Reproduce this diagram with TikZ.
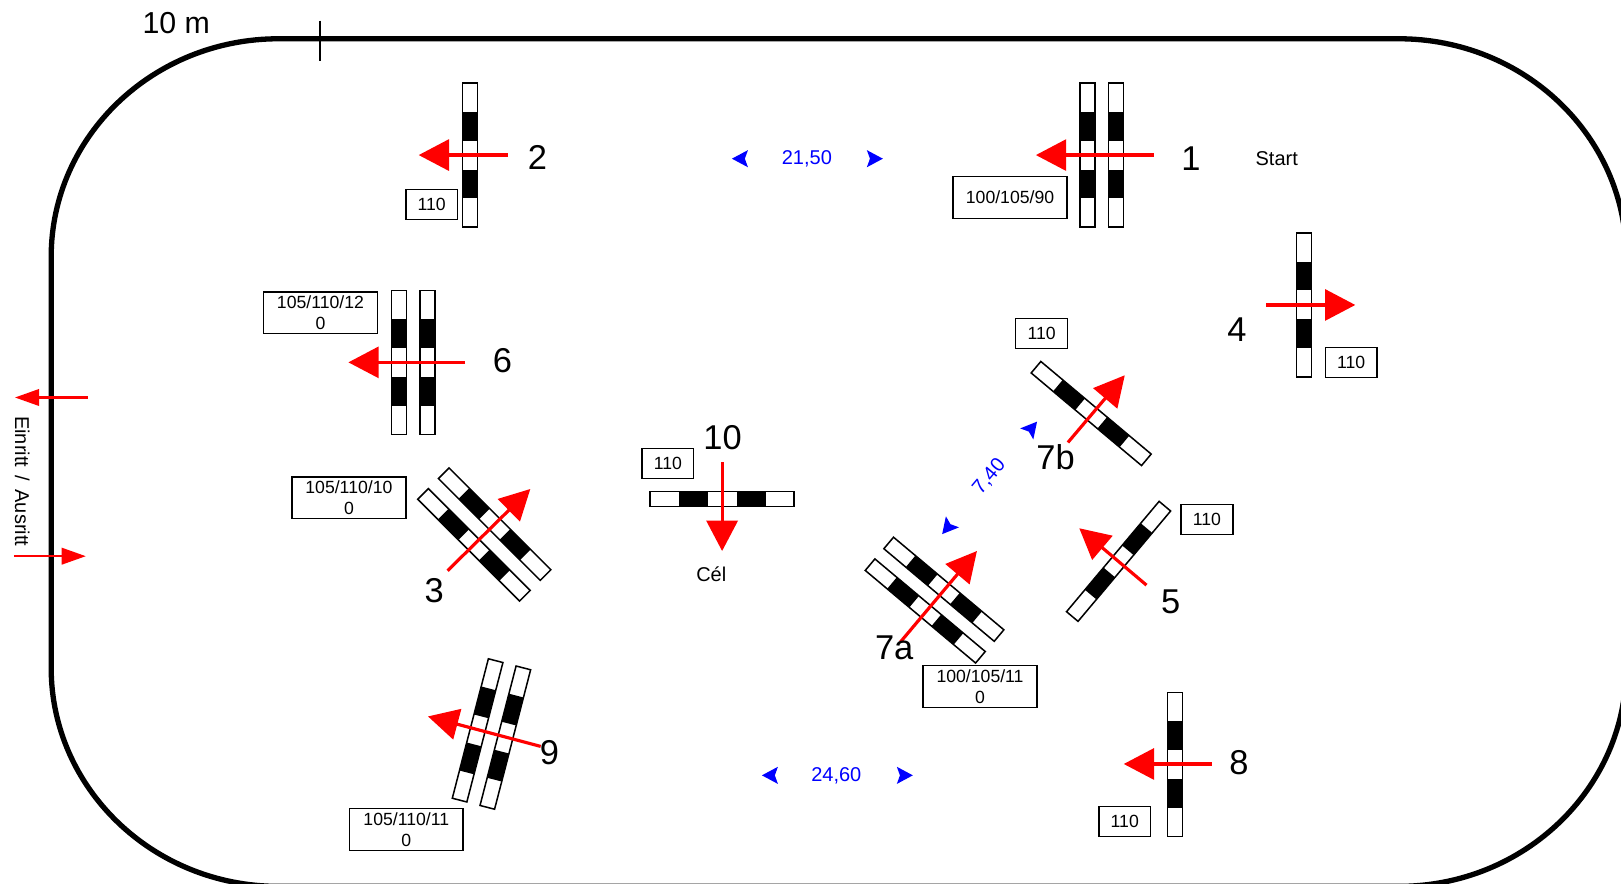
\documentclass[tikz,border=0pt]{standalone}
\usepackage{fontspec}
\setmainfont{Liberation Sans}
\usetikzlibrary{arrows.meta}
\definecolor{arrowred}{RGB}{255,0,0}
\definecolor{distblue}{RGB}{0,0,255}
\tikzset{
  x=0.75pt,y=-0.75pt,
  jumpbar/.style={draw=black,fill=white,line width=1.1pt,minimum width=104.5pt,minimum height=10.9pt,inner sep=0pt,outer sep=0pt},
  heightbox/.style={draw=black,fill=white,line width=1.1pt,inner sep=0pt,outer sep=0pt,align=center,font=\fontsize{12.8}{15.4}\selectfont},
  number/.style={font=\fontsize{25}{30}\selectfont,inner sep=0pt},
  course/.style={arrowred,line width=2.3pt,-{Triangle[length=22pt,width=22.5pt]}},
  gate/.style={arrowred,line width=1.5pt,-{Triangle[length=17.5pt,width=12pt]}},
  plain/.style={font=\fontsize{14.5}{17}\selectfont,inner sep=0pt},
  dist/.style={font=\fontsize{14.5}{17}\selectfont,text=distblue,inner sep=0pt},
}
% name, x, y, rotation
\newcommand\jumpbaritem[4]{%
  \node[jumpbar,rotate=#4] (#1) at (#2,#3) {};
  \begin{scope}[shift={(#2,#3)},rotate=#4]
    \fill[black] (-42,-7.25) rectangle (-14,7.25);
    \fill[black] (14,-7.25) rectangle (42,7.25);
  \end{scope}}
% name, x, y, width, height, text
\newcommand\heightitem[6]{\node[heightbox,minimum width=#4*0.75pt,minimum height=#5*0.75pt] (#1) at (#2,#3) {#6};}
% x, y, rotation
\newcommand\bluetip[3]{\fill[distblue,shift={(#1,#2)},rotate=#3] (8,0) -- (-7.5,-8.3) -- (-4.5,0) -- (-7.5,8.3) -- cycle;}
\begin{document}
\begin{tikzpicture}
\useasboundingbox (0,0) rectangle (1568,855);
\clip (0,0) rectangle (1568,855);
\fill[white] (0,0) rectangle (1568,855);
% arena
\draw[black,line width=3.85pt]
  (49.5,248.5) .. controls (49.5,132) and (148,37.5) .. (269.5,37.5)
  -- (1353,37.5) .. controls (1474.5,37.5) and (1573,132) .. (1573,248.5)
  -- (1573,646) .. controls (1573,762.5) and (1474.5,857.4) .. (1353,857.4)
  -- (269.5,857.4) .. controls (148,857.4) and (49.5,762.5) .. (49.5,646)
  -- cycle;
\coordinate (tickA) at (309.5,20);
\coordinate (tickB) at (309.5,59);
\draw[black,line width=1.2pt] (tickA) -- (tickB);
\node[font=\fontsize{22}{26}\selectfont,inner sep=0pt] (ten) at (170.5,22) {10 m};
% jumps
\jumpbaritem{jtwo}{454.5}{150}{90}
\jumpbaritem{jonea}{1052}{150}{90}
\jumpbaritem{joneb}{1079.5}{150}{90}
\jumpbaritem{jfour}{1261.5}{295}{90}
\jumpbaritem{jsixa}{386}{350.5}{90}
\jumpbaritem{jsixb}{413.5}{350.5}{90}
\jumpbaritem{jten}{698.5}{482.5}{0}
\jumpbaritem{jthreea}{478.5}{507}{-45}
\jumpbaritem{jthreeb}{458.5}{527}{-45}
\jumpbaritem{jsevenb}{1055.5}{400}{-40}
\jumpbaritem{jfive}{1082}{543}{50}
\jumpbaritem{jsevena}{913}{570}{-40}
\jumpbaritem{jsevenc}{895}{591}{-40}
\jumpbaritem{jninea}{462}{706.5}{75.5}
\jumpbaritem{jnineb}{488.8}{713.5}{75.5}
\jumpbaritem{jeight}{1136.5}{739.5}{90}
% height boxes
\heightitem{htwo}{417.5}{198}{50}{29}{110}
\heightitem{hone}{977}{191}{110}{40.5}{100/105/90}
\heightitem{hfour}{1307}{350.5}{50}{29}{110}
\heightitem{hsix}{310}{302.5}{110}{40.5}{105/110/12\\0}
\heightitem{hthree}{337.5}{481.5}{110}{40.5}{105/110/10\\0}
\heightitem{hnine}{393}{802.5}{110}{40.5}{105/110/11\\0}
\heightitem{hsevena}{948}{664}{110}{40.5}{100/105/11\\0}
\heightitem{hsevenb}{1007.5}{322.5}{50}{29}{110}
\heightitem{hfive}{1167.5}{502.5}{50}{29}{110}
\heightitem{hten}{646}{448.5}{50}{29}{110}
\heightitem{height}{1088}{794.5}{50}{29}{110}
% course arrows
\coordinate (atwos) at (491,150); \coordinate (atwoe) at (405,150);
\coordinate (aones) at (1116,150); \coordinate (aonee) at (1002,150);
\coordinate (afours) at (1225,295); \coordinate (afoure) at (1311,295);
\coordinate (asixs) at (450,350.5); \coordinate (asixe) at (337,350.5);
\coordinate (atens) at (698.5,447); \coordinate (atene) at (698.5,533);
\coordinate (athrees) at (433,552); \coordinate (athreee) at (513,473);
\coordinate (asevenbs) at (1033,428); \coordinate (asevenbe) at (1088,363);
\coordinate (afives) at (1109,566); \coordinate (afivee) at (1044,511);
\coordinate (asevenas) at (871,621); \coordinate (asevenae) at (945,533);
\coordinate (anines) at (523,722); \coordinate (aninee) at (414,693);
\coordinate (aeights) at (1172,739); \coordinate (aeighte) at (1087,739);
\draw[course] (atwos) -- (atwoe);
\draw[course] (aones) -- (aonee);
\draw[course] (afours) -- (afoure);
\draw[course] (asixs) -- (asixe);
\draw[course] (atens) -- (atene);
\draw[course] (athrees) -- (athreee);
\draw[course] (asevenbs) -- (asevenbe);
\draw[course] (afives) -- (afivee);
\draw[course] (asevenas) -- (asevenae);
\draw[course] (anines) -- (aninee);
\draw[course] (aeights) -- (aeighte);
% entry arrows
\coordinate (gouts) at (85,384.5); \coordinate (goute) at (14.5,384.5);
\coordinate (gins) at (13.5,538); \coordinate (gine) at (83,538);
\draw[gate] (gouts) -- (goute);
\draw[gate] (gins) -- (gine);
\node[plain,rotate=-90] (gatetext) at (21.5,465.5) {Einritt\hspace{0.42em}/\hspace{0.42em}Ausritt};
% numbers
\node[number] (none) at (1152,153) {1};
\node[number] (ntwo) at (520,152.5) {2};
\node[number] (nthree) at (420,571) {3};
\node[number] (nfour) at (1196.5,319) {4};
\node[number] (nfive) at (1132.5,582) {5};
\node[number] (nsix) at (486,349) {6};
\node[number] (nsevena) at (865,627) {7a};
\node[number] (nsevenb) at (1021,442.5) {7b};
\node[number] (neight) at (1198.5,738) {8};
\node[number] (nnine) at (531.5,728) {9};
\node[number] (nten) at (699,423) {10};
\node[plain] (start) at (1235,153) {Start};
\node[plain] (cel) at (688,555) {Cél};
% distances
\node[dist] (dlong) at (780.5,153.5) {21,50};
\node[dist] (dlow) at (809,750) {24,60};
\node[dist,rotate=50] (dseven) at (957,461) {7,40};
\bluetip{716}{153.5}{180}
\bluetip{846}{153.5}{0}
\bluetip{745}{750}{180}
\bluetip{875}{750}{0}
\bluetip{916.5}{510.5}{230}
\bluetip{998}{414}{50}
\end{tikzpicture}
\end{document}
